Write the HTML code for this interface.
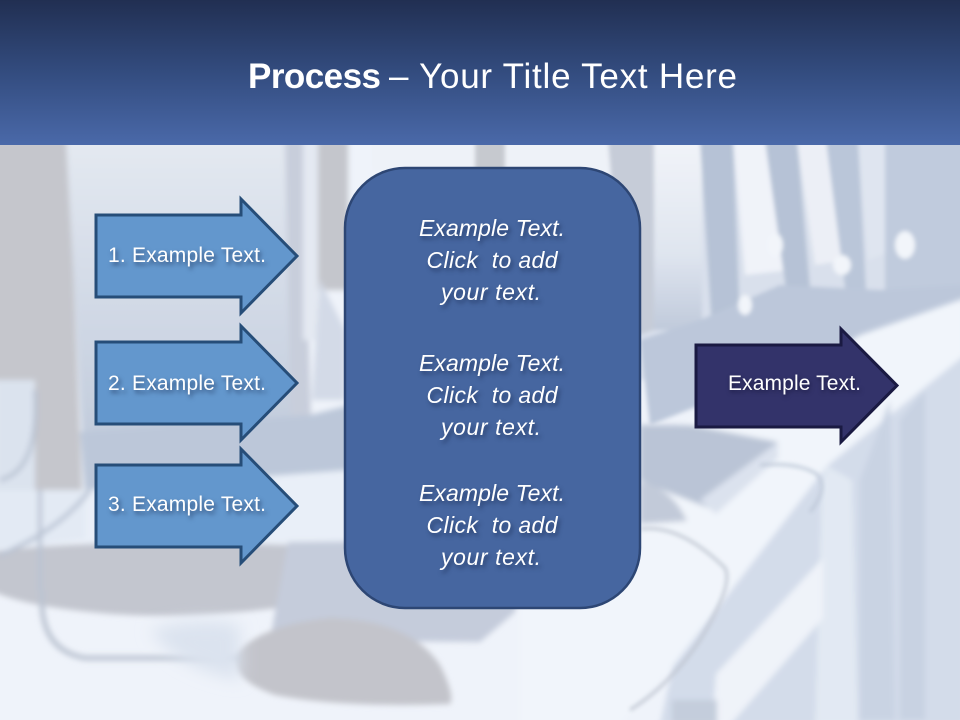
<!DOCTYPE html>
<html>
<head>
<meta charset="utf-8">
<style>
html,body{margin:0;padding:0;width:960px;height:720px;overflow:hidden;background:#eef3fa}
svg{display:block;position:absolute;left:0;top:0}
text{font-family:"Liberation Sans",sans-serif;fill:#fff}
.s{font-size:21px}
.c{font-size:23px;font-style:italic}
.shadow{filter:drop-shadow(2px 3px 2px rgba(20,35,70,.6))}
.shadow2{filter:drop-shadow(1px 2px 2px rgba(10,10,40,.6))}
</style>
</head>
<body>
<svg width="960" height="720" viewBox="0 0 960 720" xmlns="http://www.w3.org/2000/svg">
<defs>
<linearGradient id="hd" x1="0" y1="0" x2="0" y2="1"><stop offset="0" stop-color="#212f52"/><stop offset=".5" stop-color="#334c7f"/><stop offset="1" stop-color="#4a69a9"/></linearGradient>
<linearGradient id="pan" x1="0" y1="0" x2="0" y2="1"><stop offset="0" stop-color="#e4e9f1"/><stop offset="1" stop-color="#c3cddd"/></linearGradient>
<linearGradient id="up" x1="0" y1="0" x2="0" y2="1"><stop offset="0" stop-color="#f1f4f9"/><stop offset=".6" stop-color="#dfe5ef"/><stop offset="1" stop-color="#c0cadb"/></linearGradient>
<filter id="b2" x="-10%" y="-10%" width="120%" height="120%"><feGaussianBlur stdDeviation="2"/></filter>
<filter id="b3" x="-10%" y="-10%" width="120%" height="120%"><feGaussianBlur stdDeviation="3"/></filter>
<filter id="b8" x="-30%" y="-30%" width="160%" height="160%"><feGaussianBlur stdDeviation="8"/></filter>
</defs>

<rect x="0" y="145" width="960" height="575" fill="#eff3fa"/>
<g filter="url(#b3)">
  <!-- left monitor -->
  <polygon points="-10,140 68,140 82,490 35,490 35,380 -10,380" fill="#c5c6cc"/>
  <polygon points="66,140 288,140 292,432 82,432" fill="url(#pan)"/>
  <polygon points="285,140 303,140 311,420 291,432" fill="#c8cedb"/>
  <rect x="303" y="140" width="15" height="200" fill="#e4e9f2"/>
  <rect x="318" y="140" width="30" height="150" fill="#c4c6cc"/>
  <polygon points="320,280 345,330 345,400 312,400" fill="#d3dae7"/>
  <polygon points="80,432 310,415 350,405 350,470 290,490 85,490" fill="#bcc7d9"/>
  <rect x="-5" y="380" width="40" height="110" fill="#dbe3ee"/>
  <!-- desk lower left -->
  <polygon points="85,490 350,470 350,545 85,545" fill="#e9eff8"/>
  <polygon points="-10,490 85,490 85,540 -10,550" fill="#e3eaf4"/>
  <!-- base -->
  <path d="M-10 552 Q90 538 290 545 L300 605 Q180 622 90 612 Q20 605 -10 590 Z" fill="#c3c6cf"/>
  <polygon points="288,542 530,540 515,612 480,642 270,640" fill="#c5ccdb"/>
  <path d="M235 655 Q260 625 330 618 Q410 620 440 665 Q455 695 450 704 Q340 708 275 695 Q232 680 235 655Z" fill="#c3c4cb"/>
  <path d="M42 590 Q38 650 85 658 L240 658" fill="none" stroke="#bcc4d2" stroke-width="5"/>
  <path d="M0 480 Q40 470 35 390 M40 490 V590 M0 555 Q60 530 90 490" fill="none" stroke="#b9c3d3" stroke-width="4"/>
</g>
<path d="M150 630 Q200 615 240 625 L240 680 Q180 670 150 630Z" fill="#dbe3ef" filter="url(#b8)"/>
<g filter="url(#b2)">
  <!-- back rows upper right -->
  <rect x="640" y="140" width="325" height="240" fill="#d9e0ec"/>
  <rect x="372" y="140" width="280" height="30" fill="#eef2f8"/>
  <rect x="475" y="140" width="30" height="30" fill="#c6c9cf"/>
  <polygon points="608,140 654,140 654,330 625,340" fill="#c6ccd8"/>
  <rect x="654" y="140" width="48" height="190" fill="url(#up)"/>
  <polygon points="700,140 733,140 740,320 712,330" fill="#b6c2d6"/>
  <polygon points="733,140 765,140 790,270 745,275" fill="#f0f3f9"/>
  <polygon points="765,140 797,140 812,310 790,318" fill="#b6c2d6"/>
  <polygon points="797,140 828,140 848,260 815,265" fill="#eceff6"/>
  <polygon points="826,140 858,140 866,290 846,295" fill="#bac6d9"/>
  <polygon points="858,140 885,140 895,250 868,260" fill="#dfe5f0"/>
  <rect x="885" y="140" width="80" height="160" fill="#c0cbdd"/>
  <polygon points="640,340 700,320 780,285 880,290 965,285 965,305 860,340 840,350 650,425" fill="#bcc7da"/>
  <ellipse cx="775" cy="245" rx="8" ry="12" fill="#f2f5fa"/>
  <ellipse cx="905" cy="245" rx="10" ry="14" fill="#f2f5fa"/>
  <ellipse cx="745" cy="305" rx="7" ry="10" fill="#f2f5fa"/>
  <ellipse cx="842" cy="265" rx="9" ry="10" fill="#f2f5fa"/>
</g>
<g filter="url(#b3)">
  <!-- desk -->
  <polygon points="965,298 965,355 827,466 673,666 630,712 620,725 520,725 520,610 640,520 640,440 790,380 860,335" fill="#f1f5fb"/>
  <polygon points="965,355 965,725 660,725 673,666 827,466" fill="#d3dcea"/>
  <polygon points="827,466 852,480 858,725 815,725 822,480" fill="#e2e9f3"/>
  <polygon points="823,558 823,618 730,725 712,725 716,674" fill="#eff3f9"/>
  <rect x="672" y="700" width="45" height="25" fill="#c4cddc"/>
  <polygon points="860,480 890,400 895,720 860,720" fill="#c9d3e3"/>
  <polygon points="900,420 925,390 925,720 900,720" fill="#c8d2e2"/>
  <!-- keyboard -->
  <polygon points="640,425 690,425 778,442 714,510 650,485 640,480" fill="#bac4d6"/>
  <polygon points="700,500 778,442 778,458 716,514" fill="#dbe2ee"/>
  <path d="M640 482 Q672 488 687 521 L640 524 Z" fill="#c2cad9"/>
</g>
<g fill="none" filter="url(#b2)" opacity=".95">
  <path d="M760 465 Q800 462 818 475 Q828 490 810 512" stroke="#bec8d8" stroke-width="3"/>
  <path d="M641 529 Q680 524 725 568 Q734 585 700 640 Q670 685 630 710" stroke="#c0c6d1" stroke-width="3"/>
</g>

<rect x="0" y="0" width="960" height="145" fill="url(#hd)"/>
<text x="248" y="88" font-size="35" font-weight="bold" textLength="133" lengthAdjust="spacing">Process</text>
<text x="389" y="88" font-size="35" textLength="348" lengthAdjust="spacing">– Your Title Text Here</text>

<g fill="#6397cd" stroke="#264d78" stroke-width="3" stroke-linejoin="miter">
  <polygon points="96,215 241,215 241,199 297,256 241,313 241,297 96,297"/>
  <polygon points="96,342 241,342 241,326 297,383 241,440 241,424 96,424"/>
  <polygon points="96,465 241,465 241,449 297,506 241,563 241,547 96,547"/>
</g>
<polygon points="696,345 841,345 841,329 897,385.500 841,442 841,427 696,427" fill="#33336a" stroke="#1a1a42" stroke-width="3"/>
<rect x="345" y="168" width="295" height="440" rx="60" ry="60" fill="#4666a0" stroke="#2d4674" stroke-width="2.500"/>

<g class="shadow">
  <text class="s" x="108" y="262" textLength="158">1. Example Text.</text>
  <text class="s" x="108" y="390" textLength="158">2. Example Text.</text>
  <text class="s" x="108" y="511" textLength="158">3. Example Text.</text>
</g>
<g class="shadow2">
  <text class="s" x="728" y="390" textLength="133">Example Text.</text>
</g>
<g class="shadow c">
  <text x="492" y="236" text-anchor="middle" textLength="146">Example Text.</text>
  <text x="492" y="268" text-anchor="middle" textLength="131" xml:space="preserve">Click  to add</text>
  <text x="491" y="300" text-anchor="middle" textLength="100">your text.</text>
  <text x="492" y="371" text-anchor="middle" textLength="146">Example Text.</text>
  <text x="492" y="403" text-anchor="middle" textLength="131" xml:space="preserve">Click  to add</text>
  <text x="491" y="435" text-anchor="middle" textLength="100">your text.</text>
  <text x="492" y="501" text-anchor="middle" textLength="146">Example Text.</text>
  <text x="492" y="533" text-anchor="middle" textLength="131" xml:space="preserve">Click  to add</text>
  <text x="491" y="565" text-anchor="middle" textLength="100">your text.</text>
</g>
</svg>
</body>
</html>
